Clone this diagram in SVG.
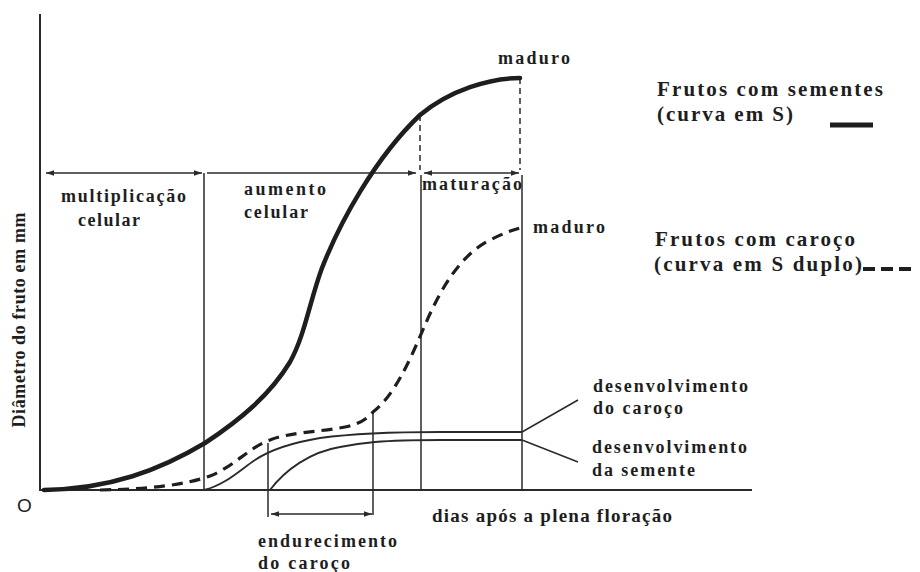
<svg xmlns="http://www.w3.org/2000/svg" width="920" height="572" viewBox="0 0 920 572">
<defs>
<style>
text{font-family:"Liberation Serif","Times New Roman",serif;font-weight:bold;fill:#1e1e1e;}
.lbl{font-size:18px;}
.leg{font-size:21px;}
.ax{stroke:#2a2a2a;stroke-width:2;fill:none;}
.thin{stroke:#2a2a2a;stroke-width:1.5;fill:none;}
.dsh{stroke:#2a2a2a;stroke-width:1.5;fill:none;stroke-dasharray:6,4;}
.thick{stroke:#1e1e1e;stroke-width:4.5;fill:none;stroke-linecap:round;}
.dcurve{stroke:#1e1e1e;stroke-width:3.2;fill:none;stroke-dasharray:11,7;}
</style>
<marker id="ah" viewBox="0 0 10 10" refX="10" refY="5" markerWidth="8" markerHeight="8" orient="auto-start-reverse" markerUnits="userSpaceOnUse">
<path d="M0,1.5 L10,5 L0,8.5 Z" fill="#2a2a2a"/>
</marker>
</defs>
<rect width="920" height="572" fill="#ffffff"/>

<g id="axes">
<line class="ax" x1="40" y1="14" x2="40" y2="491"/>
<line class="ax" x1="40" y1="490" x2="752" y2="490"/>
<text x="17" y="512" style="font-family:'Liberation Sans',Arial,sans-serif;font-weight:normal;font-size:19px">O</text>
<text transform="translate(25,320) rotate(-90)" class="lbl" text-anchor="middle" textLength="215" lengthAdjust="spacing">Diâmetro do fruto em mm</text>
<text x="432" y="522" style="font-size:19px" textLength="240" lengthAdjust="spacing">dias após a plena floração</text>
</g>

<g id="connectors">
<line class="thin" x1="204" y1="173" x2="204" y2="490"/>
<line class="dsh" x1="420" y1="115" x2="420" y2="170"/>
<line class="thin" x1="421" y1="175" x2="421" y2="490"/>
<line class="dsh" x1="520" y1="78" x2="520" y2="170"/>
<line class="thin" x1="522" y1="175" x2="522" y2="490"/>
<line class="thin" x1="46" y1="173" x2="202" y2="173" marker-start="url(#ah)" marker-end="url(#ah)"/>
<line class="thin" x1="207" y1="173" x2="416" y2="173" marker-end="url(#ah)"/>
<line class="thin" x1="424" y1="173" x2="519" y2="173" marker-start="url(#ah)" marker-end="url(#ah)"/>
<line class="thin" x1="268" y1="443" x2="268" y2="517"/>
<line class="thin" x1="373" y1="412" x2="373" y2="515"/>
<line class="thin" x1="271" y1="514" x2="372" y2="514" marker-start="url(#ah)" marker-end="url(#ah)"/>
<line class="thin" x1="522" y1="432" x2="578" y2="400"/>
<line class="thin" x1="522" y1="440" x2="578" y2="462"/>
</g>

<g id="curve-sementes">
<path class="thick" d="M44,490 C110,489 160,470 205,443 C240,420 270,395 290,362 C305,335 310,300 322,268 C340,222 375,158 420,115 C450,90 490,78 520,78"/>
</g>

<g id="curve-caroco">
<path class="dcurve" d="M100,490 C150,489 185,485 210,476 C235,466 248,448 270,440 C290,432 320,432 345,427 C360,424 368,418 373,412 C395,395 410,360 425,325 C440,290 460,255 490,240 C502,234 512,230 520,228"/>
</g>

<g id="curve-dev-caroco">
<path class="thin" style="stroke-width:1.8" d="M204,490 C225,485 240,470 255,460 C270,450 290,443 320,438 C350,434 400,432 440,432 L522,432"/>
</g>

<g id="curve-dev-semente">
<path class="thin" style="stroke-width:1.8" d="M270,490 C285,470 310,452 340,447 C360,443 380,440 440,440 L522,440"/>
</g>

<g id="phase-labels">
<text class="lbl" x="61" y="202" textLength="125" lengthAdjust="spacing">multiplicação</text>
<text class="lbl" x="78" y="226" textLength="62" lengthAdjust="spacing">celular</text>
<text class="lbl" x="244" y="195" textLength="82" lengthAdjust="spacing">aumento</text>
<text class="lbl" x="244" y="218" textLength="64" lengthAdjust="spacing">celular</text>
<text class="lbl" x="422" y="190" textLength="100" lengthAdjust="spacing">maturação</text>
<text class="lbl" x="498" y="64" textLength="72" lengthAdjust="spacing">maduro</text>
<text class="lbl" x="533" y="233" textLength="72" lengthAdjust="spacing">maduro</text>
</g>

<g id="dev-labels">
<text class="lbl" x="593" y="392" textLength="155" lengthAdjust="spacing">desenvolvimento</text>
<text class="lbl" x="593" y="414" textLength="90" lengthAdjust="spacing">do caroço</text>
<text class="lbl" x="592" y="453" textLength="155" lengthAdjust="spacing">desenvolvimento</text>
<text class="lbl" x="592" y="476" textLength="103" lengthAdjust="spacing">da semente</text>
<text class="lbl" x="258" y="547" textLength="139" lengthAdjust="spacing">endurecimento</text>
<text class="lbl" x="258" y="569" textLength="92" lengthAdjust="spacing">do caroço</text>
</g>

<g id="legend">
<text class="leg" x="657" y="96" textLength="226" lengthAdjust="spacing">Frutos com sementes</text>
<text class="leg" x="657" y="121" textLength="136" lengthAdjust="spacing">(curva em S)</text>
<line x1="830" y1="125" x2="873" y2="125" stroke="#1e1e1e" stroke-width="5"/>
<text class="leg" x="655" y="246" textLength="200" lengthAdjust="spacing">Frutos com caroço</text>
<text class="leg" x="654" y="271" textLength="208" lengthAdjust="spacing">(curva em S duplo)</text>
<line x1="863" y1="269" x2="917" y2="269" stroke="#1e1e1e" stroke-width="4" stroke-dasharray="12,6"/>
</g>
</svg>
